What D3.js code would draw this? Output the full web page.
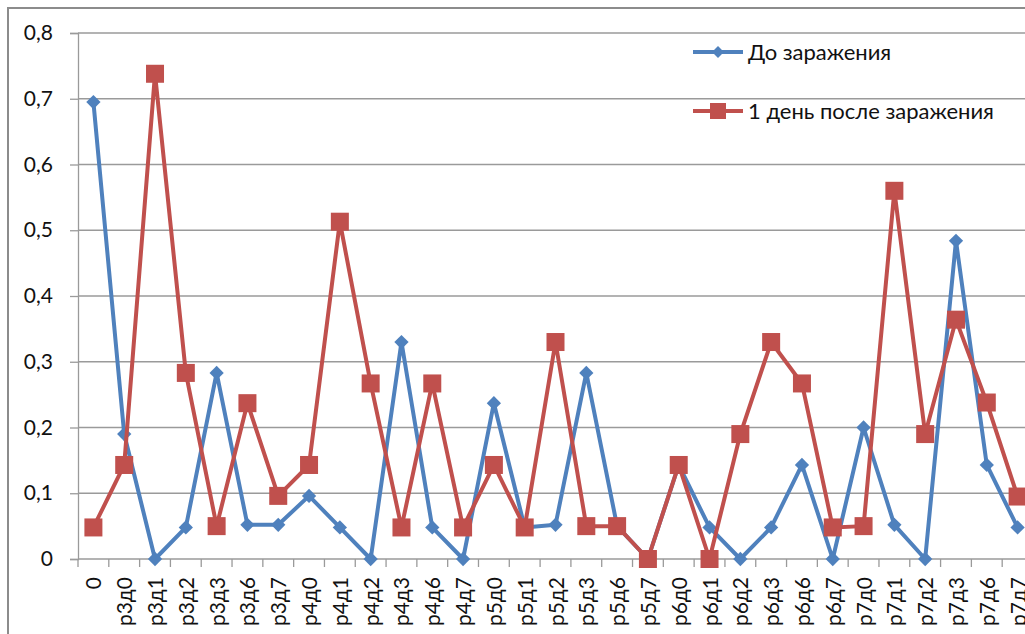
<!DOCTYPE html>
<html>
<head>
<meta charset="utf-8">
<script src="https://cdn.jsdelivr.net/npm/d3@7"></script>
<style>
  body { margin: 0; background: #fff; overflow: hidden; }
  svg { display: block; }
</style>
</head>
<body>
<div id="chart"></div>
<script>
// categories on the x axis
const categories = ["0", "р3д0", "р3д1", "р3д2", "р3д3", "р3д6", "р3д7",
  "р4д0", "р4д1", "р4д2", "р4д3", "р4д6", "р4д7",
  "р5д0", "р5д1", "р5д2", "р5д3", "р5д6", "р5д7",
  "р6д0", "р6д1", "р6д2", "р6д3", "р6д6", "р6д7",
  "р7д0", "р7д1", "р7д2", "р7д3", "р7д6", "р7д7"];

// До заражения
const before = [0.695, 0.19, 0, 0.048, 0.283, 0.052, 0.052,
  0.096, 0.048, 0, 0.33, 0.048, 0,
  0.237, 0.048, 0.052, 0.283, 0.05, 0,
  0.143, 0.048, 0, 0.048, 0.143, 0,
  0.2, 0.052, 0, 0.484, 0.143, 0.048];

// 1 день после заражения
const after = [0.048, 0.143, 0.738, 0.283, 0.05, 0.237, 0.096,
  0.143, 0.513, 0.267, 0.048, 0.267, 0.048,
  0.143, 0.048, 0.33, 0.05, 0.05, 0,
  0.143, 0, 0.19, 0.33, 0.267, 0.048,
  0.05, 0.56, 0.19, 0.364, 0.238, 0.095];

const yTicks = [0, 0.1, 0.2, 0.3, 0.4, 0.5, 0.6, 0.7, 0.8];
const seriesNames = ["До заражения", "1 день после заражения"];

const W = 1025, H = 634;
const margin = { top: 33, left: 78, bottom: 75 };
const plotW = 955;            // plot runs past the right edge (cropped in the source)
const plotH = H - margin.top - margin.bottom;
const font = "Lato, 'Open Sans', sans-serif";
const gridColor = "#9a9a9a";

const svg = d3.select("#chart").append("svg")
  .attr("width", W).attr("height", H);

// outer chart frame
svg.append("rect")
  .attr("x", 8).attr("y", 8)
  .attr("width", W + 20).attr("height", H + 20)
  .attr("fill", "#fff")
  .attr("stroke", "#8c8c8c")
  .attr("stroke-width", 2);

const g = svg.append("g")
  .attr("transform", `translate(${margin.left},${margin.top})`);

const x = d3.scaleBand().domain(categories).range([0, plotW]);
const y = d3.scaleLinear().domain([0, 0.8]).range([plotH, 0]);

const fmt = d => d === 0 ? "0" : d3.format(".1f")(d).replace(".", ",");

// gridlines
g.append("g")
  .selectAll("line")
  .data(yTicks.filter(d => d > 0))
  .join("line")
  .attr("x1", 0).attr("x2", plotW)
  .attr("y1", d => y(d)).attr("y2", d => y(d))
  .attr("stroke", gridColor)
  .attr("stroke-width", 1.3);

// y axis
const yAxis = g.append("g")
  .call(d3.axisLeft(y).tickValues(yTicks).tickFormat(fmt).tickSize(8).tickPadding(17));
yAxis.select(".domain").attr("stroke", gridColor).attr("stroke-width", 1.3);
yAxis.selectAll(".tick line").attr("stroke", gridColor).attr("stroke-width", 1.3);
yAxis.selectAll("text")
  .attr("font-family", font)
  .attr("font-size", 21)
  .attr("fill", "#111");

// x axis: ticks on category boundaries
const xAxis = g.append("g").attr("transform", `translate(0,${plotH})`);
xAxis.append("line")
  .attr("x1", 0).attr("x2", plotW)
  .attr("stroke", gridColor).attr("stroke-width", 1.3);
xAxis.selectAll(".bt")
  .data(categories.map((c, i) => i).concat([categories.length]))
  .join("line")
  .attr("class", "bt")
  .attr("x1", i => i * x.step()).attr("x2", i => i * x.step())
  .attr("y1", 0).attr("y2", 8)
  .attr("stroke", gridColor).attr("stroke-width", 1.3);
xAxis.selectAll(".lbl")
  .data(categories)
  .join("text")
  .attr("class", "lbl")
  .attr("transform", d => `translate(${x(d) + x.bandwidth() / 2 + 8},${18}) rotate(-90)`)
  .attr("text-anchor", "end")
  .attr("font-family", font)
  .attr("font-size", 21)
  .attr("fill", "#111")
  .text(d => d);

const cx = i => x(categories[i]) + x.bandwidth() / 2;
const line = d3.line().x((d, i) => cx(i)).y(d => y(d));

const colors = ["#4f81bd", "#c0504d"];

// series 1: diamonds
g.append("path")
  .datum(before)
  .attr("fill", "none")
  .attr("stroke", colors[0])
  .attr("stroke-width", 4)
  .attr("stroke-linejoin", "round")
  .attr("d", line);
g.append("g").selectAll("path")
  .data(before)
  .join("path")
  .attr("transform", (d, i) => `translate(${cx(i)},${y(d)})`)
  .attr("d", d3.symbol(d3.symbolDiamond2, 130))
  .attr("fill", colors[0]);

// series 2: squares
g.append("path")
  .datum(after)
  .attr("fill", "none")
  .attr("stroke", colors[1])
  .attr("stroke-width", 4)
  .attr("stroke-linejoin", "round")
  .attr("d", line);
g.append("g").selectAll("rect")
  .data(after)
  .join("rect")
  .attr("x", (d, i) => cx(i) - 9)
  .attr("y", d => y(d) - 9)
  .attr("width", 18).attr("height", 18)
  .attr("fill", colors[1]);

// legend
const legend = svg.append("g");
const legY = [52, 111];
seriesNames.forEach((name, i) => {
  const row = legend.append("g").attr("transform", `translate(693,${legY[i]})`);
  row.append("line")
    .attr("x1", 0).attr("x2", 50)
    .attr("stroke", colors[i]).attr("stroke-width", 4);
  if (i === 0) {
    row.append("path")
      .attr("transform", "translate(25,0)")
      .attr("d", d3.symbol(d3.symbolDiamond2, 90))
      .attr("fill", colors[i]);
  } else {
    row.append("rect")
      .attr("x", 17).attr("y", -8).attr("width", 16).attr("height", 16)
      .attr("fill", colors[i]);
  }
  row.append("text")
    .attr("x", 55).attr("y", 8)
    .attr("font-family", font)
    .attr("font-size", 22)
    .attr("fill", "#111")
    .text(name);
});
</script>
</body>
</html>
